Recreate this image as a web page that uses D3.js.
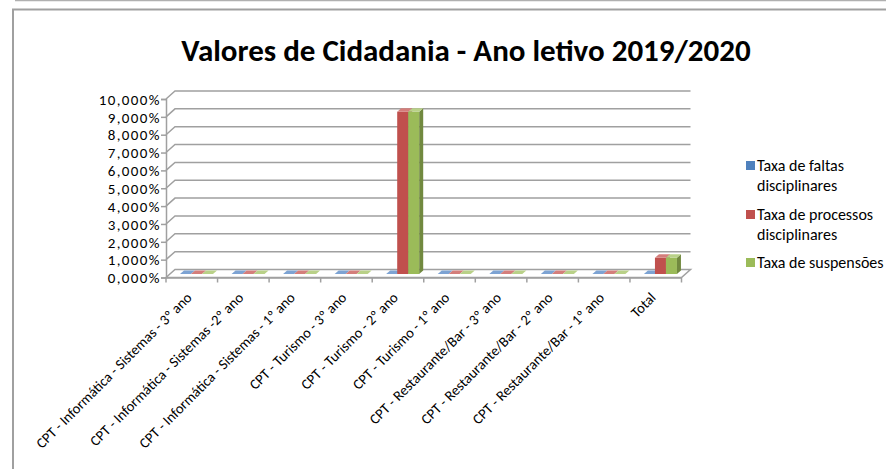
<!DOCTYPE html>
<html>
<head>
<meta charset="utf-8">
<script src="https://cdn.jsdelivr.net/npm/d3@7"></script>
<style>
  body { margin: 0; background: #fff; }
  svg text { font-family: Carlito, Lato, "Open Sans", sans-serif; fill: #000; }
</style>
</head>
<body>
<svg id="chart" width="886" height="469"></svg>
<script>
var categories = [
  "CPT - Informática - Sistemas - 3º ano",
  "CPT - Informática - Sistemas -2º ano",
  "CPT - Informática - Sistemas - 1º ano",
  "CPT - Turismo - 3º ano",
  "CPT - Turismo - 2º ano",
  "CPT - Turismo - 1º ano",
  "CPT - Restaurante/Bar - 3º ano",
  "CPT - Restaurante/Bar - 2º ano",
  "CPT - Restaurante/Bar - 1º ano",
  "Total"
];
var seriesNames = ["Taxa de faltas disciplinares", "Taxa de processos disciplinares", "Taxa de suspensões"];
var faltas = [0, 0, 0, 0, 0, 0, 0, 0, 0, 0];
var processos = [0, 0, 0, 0, 9.091, 0, 0, 0, 0, 0.909];
var suspensoes = [0, 0, 0, 0, 9.091, 0, 0, 0, 0, 0.909];
var yTicks = [0, 1, 2, 3, 4, 5, 6, 7, 8, 9, 10];
var title = "Valores de Cidadania - Ano letivo 2019/2020";

var colors = [
  { front: "#4F81BD", top: "#7DA3D3", side: "#385D8A" },
  { front: "#C0504D", top: "#D47E7B", side: "#8C3836" },
  { front: "#9BBB59", top: "#B9D188", side: "#71893F" }
];
var values = [faltas, processos, suspensoes];

var svg = d3.select("#chart");

// frame
svg.append("line").attr("x1", 15).attr("x2", 886).attr("y1", 0.5).attr("y2", 0.5)
  .attr("stroke", "#b0b0b0").attr("stroke-width", 1.5);
svg.append("path").attr("d", "M13,469V9.5H886")
  .attr("fill", "none").attr("stroke", "#a0a0a0").attr("stroke-width", 2);

svg.append("text").attr("x", 466).attr("y", 61).attr("text-anchor", "middle")
  .style("font-size", "31px").style("font-weight", "bold").text(title);

var x = d3.scaleBand().domain(categories).range([166, 681.5]);
var y = d3.scaleLinear().domain([0, 10]).range([277.5, 99]);
var xs = d3.scaleBand().domain(seriesNames).range([10, 43]);
var dx = 9, dy = -8; // wall depth
var ox = 4, oy = -3.5, bdx = 4, bdy = -3.5; // bar position and depth

var x0 = x.range()[0], x1 = x.range()[1];
var grid = svg.append("g").attr("fill", "none").attr("stroke", "#a0a0a0").attr("stroke-width", 1.5);

// floor
grid.append("path").attr("d",
  "M" + x0 + "," + y(0) + "L" + (x0 + dx) + "," + (y(0) + dy) + "L" + (x1 + dx) + "," + (y(0) + dy) +
  "L" + x1 + "," + y(0) + "Z");

// gridlines on back and side walls
yTicks.forEach(function (t) {
  if (t === 0) return;
  grid.append("path").attr("d",
    "M" + x0 + "," + y(t) + "L" + (x0 + dx) + "," + (y(t) + dy) + "L" + (x1 + dx) + "," + (y(t) + dy));
});

// y axis
var yAxis = svg.append("g").attr("transform", "translate(" + x0 + ",0)")
  .call(d3.axisLeft(y).tickValues(yTicks).tickSize(5).tickPadding(0)
    .tickFormat(function (d) { return d3.format(".3f")(d).replace(".", ",") + "%"; }));
yAxis.select(".domain").attr("stroke", "#a0a0a0").attr("stroke-width", 1.5);
yAxis.selectAll(".tick line").attr("stroke", "#a0a0a0").attr("stroke-width", 1.5);
yAxis.selectAll("text").style("font-size", "15px").style("letter-spacing", "1.4px").attr("dy", "0.35em");

// x axis
var xAxis = svg.append("g").attr("transform", "translate(0," + y(0) + ")")
  .call(d3.axisBottom(x).tickSize(0).tickFormat(""));
xAxis.select(".domain").attr("stroke", "#a0a0a0").attr("stroke-width", 1.5);
var bounds = categories.map(function (c) { return x(c); }).concat([x1]);
xAxis.selectAll(".bound").data(bounds).enter().append("line")
  .attr("x1", function (d) { return d; }).attr("x2", function (d) { return d; })
  .attr("y1", 0).attr("y2", 5).attr("stroke", "#a0a0a0").attr("stroke-width", 1.5);

svg.append("g").selectAll("text").data(categories).enter().append("text")
  .attr("transform", function (d) {
    return "translate(" + (x(d) + x.bandwidth() / 2 + 1) + "," + (y(0) + 21) + ") rotate(-45)";
  })
  .attr("text-anchor", "end").style("font-size", "14.5px").text(function (d) { return d; });

// bars
var bars = svg.append("g");
categories.forEach(function (c, i) {
  seriesNames.forEach(function (s, k) {
    var v = values[k][i];
    var bx = x(c) + xs(s) + ox, bw = xs.bandwidth();
    var by0 = y(0) + oy, by1 = y(v) + oy;
    var col = colors[k];
    if (by0 - by1 > 0.5) {
      bars.append("rect").attr("x", bx).attr("y", by1).attr("width", bw).attr("height", by0 - by1)
        .attr("fill", col.front);
      bars.append("path").attr("d",
        "M" + (bx + bw) + "," + by1 + "l" + bdx + "," + bdy + "V" + (by0 + bdy) + "l" + (-bdx) + "," + (-bdy) + "Z")
        .attr("fill", col.side);
    }
    bars.append("path").attr("d",
      "M" + bx + "," + by1 + "l" + bdx + "," + bdy + "h" + bw + "l" + (-bdx) + "," + (-bdy) + "Z")
      .attr("fill", col.top);
  });
});

// legend
var legendY = [171, 220, 268];
var legend = svg.append("g");
seriesNames.forEach(function (s, k) {
  var g = legend.append("g").attr("transform", "translate(746," + legendY[k] + ")");
  g.append("rect").attr("x", 0).attr("y", -10).attr("width", 9).attr("height", 9).attr("fill", colors[k].front);
  var words = k === 2 ? [s] : [s.replace(/ disciplinares$/, ""), "disciplinares"];
  words.forEach(function (w, j) {
    g.append("text").attr("x", 11).attr("y", j * 20).style("font-size", "16px").text(w);
  });
});
</script>
</body>
</html>
